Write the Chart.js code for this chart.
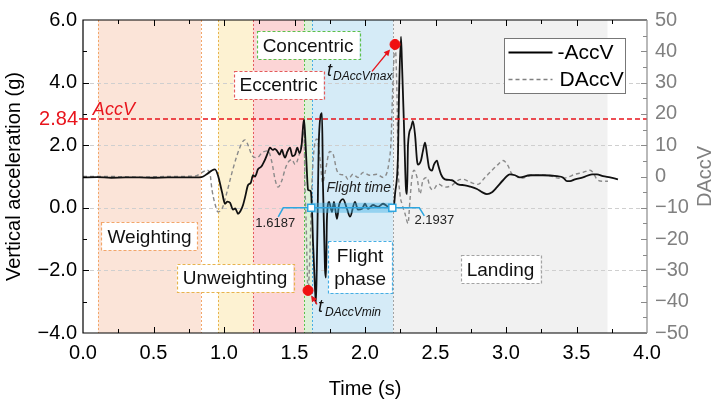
<!DOCTYPE html>
<html>
<head>
<meta charset="utf-8">
<script src="https://cdn.jsdelivr.net/npm/chart.js@4.4.1/dist/chart.umd.min.js"></script>
<style>
  html, body { margin: 0; padding: 0; background: #fff; }
</style>
</head>
<body>
<canvas id="jumpChart" width="720" height="405"></canvas>
<script>
// -AccV (left axis, g)
const timeAcc = [0.00, 0.10, 0.20, 0.30, 0.40, 0.50, 0.60, 0.70, 0.80, 0.84, 0.88, 0.91, 0.936, 0.957, 0.986,
  1.007, 1.025, 1.043, 1.064, 1.080, 1.099, 1.115, 1.135, 1.150, 1.170, 1.190, 1.206, 1.220, 1.241, 1.265,
  1.291, 1.310, 1.326, 1.345, 1.360, 1.376, 1.395, 1.411, 1.422, 1.433, 1.450, 1.468, 1.485, 1.504, 1.520,
  1.535, 1.550, 1.567, 1.578, 1.589, 1.596, 1.610, 1.617, 1.624, 1.631, 1.645, 1.652, 1.660, 1.674, 1.695,
  1.702, 1.716, 1.723, 1.730, 1.745, 1.766, 1.780, 1.801, 1.816, 1.844, 1.872, 1.894, 1.929, 1.950, 1.979,
  2.000, 2.021, 2.057, 2.092, 2.128, 2.163, 2.191, 2.205, 2.213, 2.234, 2.241, 2.255, 2.262, 2.277, 2.291,
  2.298, 2.305, 2.326, 2.340, 2.355, 2.369, 2.376, 2.397, 2.411, 2.426, 2.440, 2.454, 2.475, 2.489, 2.511,
  2.518, 2.539, 2.567, 2.617, 2.660, 2.709, 2.745, 2.794, 2.830, 2.865, 2.901, 2.936, 2.979, 3.028, 3.064,
  3.099, 3.170, 3.262, 3.362, 3.404, 3.433, 3.454, 3.489, 3.546, 3.610, 3.645, 3.688, 3.738, 3.794];
const accV = [0.97, 0.98, 0.96, 0.97, 0.97, 0.96, 0.97, 0.97, 0.97, 0.98, 1.08, 1.18, 1.23, 1.04, 0.50,
  0.13, 0.20, 0.16, -0.06, -0.02, -0.19, -0.12, 0.09, 0.35, 0.72, 0.80, 1.04, 1.00, 1.23, 1.32,
  1.54, 1.75, 1.92, 1.85, 1.88, 1.82, 1.70, 1.86, 1.70, 1.60, 1.80, 1.92, 1.65, 1.70, 1.92,
  1.75, 1.98, 2.84, 2.10, 1.04, 0.57, 0.55, 0.50, -0.03, -1.07, -2.55, -3.05, -1.38, 2.30, 3.02,
  0.72, -1.92, -2.23, -0.35, 0.19, -0.13, 0.19, -0.35, 0.09, 0.28, -0.03, -0.28, 0.19, -0.06, -0.03,
  0.13, -0.03, 0.09, 0.03, 0.13, 0.03, -0.06, 0.05, 0.44, 1.70, 3.58, 5.47, 4.65, 2.55, 0.57,
  0.44, 2.01, 2.55, 2.77, 2.33, 1.51, 1.38, 1.51, 1.82, 2.08, 1.70, 1.29, 1.19, 1.38, 1.51,
  1.38, 1.07, 0.91, 0.88, 0.75, 0.72, 0.68, 0.60, 0.50, 0.44, 0.50, 0.66, 0.88, 1.07, 1.04,
  0.97, 1.04, 1.04, 1.01, 0.97, 0.85, 0.85, 0.91, 0.97, 1.07, 1.07, 1.01, 0.97, 0.91];

// DAccV (right axis)
const timeDAcc = [0.00, 0.20, 0.40, 0.60, 0.80, 0.851, 0.880, 0.900, 0.915, 0.936, 0.957, 0.986, 1.021, 1.057,
  1.092, 1.128, 1.149, 1.170, 1.199, 1.234, 1.270, 1.312, 1.340, 1.362, 1.383, 1.411, 1.433, 1.454, 1.482,
  1.504, 1.530, 1.555, 1.566, 1.574, 1.582, 1.596, 1.610, 1.624, 1.645, 1.660, 1.680, 1.700, 1.720, 1.750,
  1.770, 1.800, 1.823, 1.858, 1.879, 1.915, 1.950, 1.986, 2.035, 2.085, 2.128, 2.156, 2.170, 2.184, 2.198,
  2.213, 2.227, 2.234, 2.248, 2.262, 2.284, 2.305, 2.319, 2.333, 2.348, 2.369, 2.390, 2.411, 2.440, 2.461,
  2.482, 2.518, 2.567, 2.617, 2.660, 2.695, 2.745, 2.801, 2.851, 2.901, 2.943, 2.979, 3.014, 3.043, 3.064,
  3.099, 3.191, 3.291, 3.383, 3.433, 3.489, 3.546, 3.596, 3.617, 3.645, 3.681, 3.723];
const dAccV = [0.0, 0.0, -0.2, 0.0, 0.2, 1.5, 2.0, 1.0, -4.3, -8.7, -11.3, -10.3, -5.0, 1.3,
  6.7, 10.8, 11.7, 10.1, 6.7, 6.0, 7.6, 8.2, 4.5, -0.9, -3.4, -1.2, 2.3, 4.5, 5.4,
  3.8, 6.5, 12.0, 17.0, -2.0, -14.0, -36.4, -23.8, -1.9, 10.8, 12.0, 6.0, -2.0, 2.0, 8.0,
  7.6, 2.0, 0.7, 0.4, -0.9, 0.7, -0.3, 1.3, 0.4, 0.7, -0.3, 1.3, 4.5, 10.8, 30.0,
  42.2, 25.8, 5.1, -5.6, -8.7, -11.9, -15.0, -7.5, -0.3, 2.0, -0.3, -5.6, -1.2, -0.3, -3.4,
  -4.3, -2.4, -3.4, -2.8, -1.2, -0.9, -1.8, -2.5, -0.3, 2.0, 3.8, 5.1, 3.5, 0.7, 0.4,
  -0.6, 0.4, 0.4, -0.6, -0.3, 0.7, 1.3, 2.0, 1.3, -0.9, -1.5, -1.5];

// tDAccVmin / tDAccVmax markers (right axis)
const markerTimes = [1.596, 2.213];
const markerDAcc = [-36.4, 42.2];

const threshold = 2.84;
const flightStart = 1.6187;
const flightEnd = 2.1937;

const phaseNames = ['Weighting', 'Unweighting', 'Eccentric', 'Concentric', 'Flight\nphase', 'Landing'];
const phaseStart = [0.106, 0.957, 1.205, 1.567, 1.624, 2.199];
const phaseEnd = [0.837, 1.205, 1.567, 1.624, 2.199, 3.72];

// looks of each phase: fill, edge colour, label centre in data coords
const phaseStyle = [
  { fill: '#fbe4d8', edge: '#f2a66a', lx: 0.472, ly: -0.91 },
  { fill: '#fdf2d2', edge: '#e7b34d', lx: 1.078, ly: -2.25 },
  { fill: '#fcd5d6', edge: '#e45b5b', lx: 1.387, ly: 3.92 },
  { fill: '#def0d8', edge: '#5cc04a', lx: 1.596, ly: 5.19 },
  { fill: '#d5ebf7', edge: '#45aee4', lx: 1.965, ly: -1.89 },
  { fill: '#f1f1f1', edge: '#a3a3a3', lx: 2.961, ly: -1.97 }
];

const FONT = '"Liberation Sans", Arial, sans-serif';

function minusFmt(v, digits) {
  const s = digits ? Math.abs(v).toFixed(digits) : String(Math.abs(v));
  return v < 0 ? '\u2212' + s : s;
}

function arrow(ctx, x1, y1, x2, y2) {
  const ang = Math.atan2(y2 - y1, x2 - x1);
  ctx.beginPath();
  ctx.moveTo(x1, y1);
  ctx.lineTo(x2 - 4 * Math.cos(ang), y2 - 4 * Math.sin(ang));
  ctx.stroke();
  ctx.beginPath();
  ctx.moveTo(x2, y2);
  ctx.lineTo(x2 - 7 * Math.cos(ang - 0.45), y2 - 7 * Math.sin(ang - 0.45));
  ctx.lineTo(x2 - 7 * Math.cos(ang + 0.45), y2 - 7 * Math.sin(ang + 0.45));
  ctx.closePath();
  ctx.fill();
}

const decor = {
  id: 'decor',
  beforeDatasetsDraw(chart) {
    const { ctx, chartArea: a, scales: { x, y } } = chart;
    ctx.save();
    // phase bands
    phaseStart.forEach((s, i) => {
      const x1 = x.getPixelForValue(s), x2 = x.getPixelForValue(phaseEnd[i]);
      ctx.fillStyle = phaseStyle[i].fill;
      ctx.fillRect(x1, a.top, x2 - x1, a.bottom - a.top);
    });
    // horizontal dashed grid
    ctx.strokeStyle = '#cfcfcf';
    ctx.lineWidth = 1;
    ctx.setLineDash([4, 3]);
    [4, 2, 0, -2].forEach(v => {
      const py = Math.round(y.getPixelForValue(v)) + 0.5;
      ctx.beginPath(); ctx.moveTo(a.left, py); ctx.lineTo(a.right, py); ctx.stroke();
    });
    // dotted phase edges
    ctx.setLineDash([2, 2]);
    const edges = [[0.106, 0], [0.837, 0], [0.957, 1], [1.205, 2], [1.565, 2], [1.569, 3], [1.624, 4], [2.199, 5]];
    edges.forEach(([t, i]) => {
      const px = Math.round(x.getPixelForValue(t)) + 0.5;
      ctx.strokeStyle = phaseStyle[i].edge;
      ctx.beginPath(); ctx.moveTo(px, a.top); ctx.lineTo(px, a.bottom); ctx.stroke();
    });
    ctx.restore();
  },
  afterDatasetsDraw(chart) {
    const { ctx, chartArea: a, scales: { x, y, y1 } } = chart;
    ctx.save();
    // threshold line
    const ty = y.getPixelForValue(threshold);
    ctx.strokeStyle = '#e8141c';
    ctx.lineWidth = 1.5;
    ctx.setLineDash([5, 3]);
    ctx.beginPath(); ctx.moveTo(a.left, ty); ctx.lineTo(a.right, ty); ctx.stroke();
    ctx.setLineDash([]);
    ctx.fillStyle = '#e8141c';
    ctx.font = 'italic 18px ' + FONT;
    ctx.textAlign = 'left';
    ctx.textBaseline = 'alphabetic';
    ctx.fillText('AccV', x.getPixelForValue(0.07), ty - 4);

    // flight time bracket
    const fx1 = x.getPixelForValue(flightStart), fx2 = x.getPixelForValue(flightEnd);
    const fy = y.getPixelForValue(0);
    ctx.fillStyle = 'rgba(70,180,230,0.45)';
    ctx.fillRect(fx1, fy - 5, fx2 - fx1, 10);
    ctx.strokeStyle = '#2ea6e0';
    ctx.lineWidth = 1.5;
    ctx.beginPath();
    ctx.moveTo(fx1 - 33, fy + 9); ctx.lineTo(fx1 - 28, fy); ctx.lineTo(fx2 + 27, fy); ctx.lineTo(fx2 + 32, fy + 8);
    ctx.stroke();
    [fx1, fx2].forEach(px => {
      ctx.fillStyle = '#fff';
      ctx.fillRect(px - 3.5, fy - 3.5, 7, 7);
      ctx.strokeRect(px - 3.5, fy - 3.5, 7, 7);
    });
    ctx.fillStyle = '#222';
    ctx.font = '13px ' + FONT;
    ctx.textAlign = 'center';
    ctx.textBaseline = 'middle';
    ctx.fillText(flightStart.toFixed(4), fx1 - 36, fy + 16);
    ctx.fillText(flightEnd.toFixed(4), fx2 + 42, fy + 13);
    ctx.font = 'italic 14px ' + FONT;
    ctx.fillText('Flight time', (fx1 + fx2) / 2 + 7, fy - 20);

    // phase label boxes
    ctx.font = '19px ' + FONT;
    phaseNames.forEach((name, i) => {
      const st = phaseStyle[i];
      const lines = name.split('\n');
      const w = Math.max(...lines.map(l => ctx.measureText(l).width)) + 12;
      const h = lines.length === 1 ? 28 : 52;
      const cx = x.getPixelForValue(st.lx), cy = y.getPixelForValue(st.ly);
      ctx.fillStyle = '#fff';
      ctx.fillRect(cx - w / 2, cy - h / 2, w, h);
      ctx.strokeStyle = st.edge;
      ctx.lineWidth = 1.2;
      ctx.setLineDash([3, 2]);
      ctx.strokeRect(Math.round(cx - w / 2) + 0.5, Math.round(cy - h / 2) + 0.5, Math.round(w), h);
      ctx.setLineDash([]);
      ctx.fillStyle = '#111';
      lines.forEach((l, k) => {
        ctx.fillText(l, cx, cy + (k - (lines.length - 1) / 2) * 23 + 1);
      });
    });

    // marker labels and arrows
    const pMin = { x: x.getPixelForValue(markerTimes[0]), y: y1.getPixelForValue(markerDAcc[0]) };
    const pMax = { x: x.getPixelForValue(markerTimes[1]), y: y1.getPixelForValue(markerDAcc[1]) };
    ctx.strokeStyle = '#e8141c';
    ctx.fillStyle = '#e8141c';
    ctx.lineWidth = 1.3;
    arrow(ctx, pMax.x - 23, pMax.y + 27, pMax.x - 5, pMax.y + 5);
    arrow(ctx, pMin.x + 9, pMin.y + 14, pMin.x + 3, pMin.y + 5);
    ctx.fillStyle = '#111';
    ctx.textAlign = 'left';
    ctx.textBaseline = 'alphabetic';
    ctx.font = 'italic 18px ' + FONT;
    ctx.fillText('t', pMax.x - 68, pMax.y + 32);
    ctx.fillText('t', pMin.x + 10, pMin.y + 22);
    ctx.font = 'italic 12px ' + FONT;
    ctx.fillText('DAccVmax', pMax.x - 62, pMax.y + 36);
    ctx.fillText('DAccVmin', pMin.x + 17, pMin.y + 26);
    ctx.restore();
  },
  afterDraw(chart) {
    const { ctx, chartArea: a, scales: { x, y, y1 } } = chart;
    ctx.save();
    ctx.lineWidth = 1.2;
    // frame
    ctx.strokeStyle = '#000';
    ctx.beginPath();
    ctx.moveTo(a.right, a.top); ctx.lineTo(a.left, a.top); ctx.lineTo(a.left, a.bottom); ctx.lineTo(a.right, a.bottom);
    ctx.stroke();
    ctx.strokeStyle = '#8a8a8a';
    ctx.beginPath(); ctx.moveTo(a.right, a.top); ctx.lineTo(a.right, a.bottom); ctx.stroke();
    // x ticks, inward, bottom and top
    ctx.strokeStyle = '#000';
    ctx.lineWidth = 1;
    for (let t = 0.25; t < 4; t += 0.25) {
      const px = Math.round(x.getPixelForValue(t)) + 0.5;
      const len = Math.abs(t * 2 - Math.round(t * 2)) < 1e-6 ? 6 : 4;
      ctx.beginPath();
      ctx.moveTo(px, a.bottom); ctx.lineTo(px, a.bottom - len);
      ctx.moveTo(px, a.top); ctx.lineTo(px, a.top + len);
      ctx.stroke();
    }
    // left ticks
    for (let v = -3; v < 6; v += 1) {
      const py = Math.round(y.getPixelForValue(v)) + 0.5;
      const len = v % 2 === 0 ? 6 : 4;
      ctx.beginPath(); ctx.moveTo(a.left, py); ctx.lineTo(a.left + len, py); ctx.stroke();
    }
    // right ticks
    ctx.strokeStyle = '#8a8a8a';
    for (let v = -45; v < 50; v += 5) {
      const py = Math.round(y1.getPixelForValue(v)) + 0.5;
      const len = v % 10 === 0 ? 6 : 4;
      ctx.beginPath(); ctx.moveTo(a.right, py); ctx.lineTo(a.right - len, py); ctx.stroke();
    }
    // right axis title, reading upward like the left one
    ctx.save();
    ctx.translate(705, (a.top + a.bottom) / 2);
    ctx.rotate(-Math.PI / 2);
    ctx.fillStyle = '#808080';
    ctx.font = '20px ' + FONT;
    ctx.textAlign = 'center';
    ctx.textBaseline = 'middle';
    ctx.fillText('DAccV', 0, 0);
    ctx.restore();
    // threshold tick label
    const ty = y.getPixelForValue(threshold);
    ctx.strokeStyle = '#e8141c';
    ctx.lineWidth = 1.5;
    ctx.beginPath(); ctx.moveTo(a.left - 4, ty); ctx.lineTo(a.left + 5, ty); ctx.stroke();
    ctx.fillStyle = '#e8141c';
    ctx.font = '20px ' + FONT;
    ctx.textAlign = 'right';
    ctx.textBaseline = 'middle';
    ctx.fillText(threshold.toFixed(2), a.left - 5, ty + 1);

    // legend
    const lx = 504.5, ly = 38.5;
    ctx.fillStyle = '#fff';
    ctx.fillRect(lx, ly, 121, 55);
    ctx.strokeStyle = '#777';
    ctx.lineWidth = 1;
    ctx.strokeRect(lx, ly, 121, 55);
    ctx.strokeStyle = '#000';
    ctx.lineWidth = 2;
    ctx.beginPath(); ctx.moveTo(lx + 4, ly + 14); ctx.lineTo(lx + 48, ly + 14); ctx.stroke();
    ctx.strokeStyle = '#808080';
    ctx.lineWidth = 1.5;
    ctx.setLineDash([4, 3]);
    ctx.beginPath(); ctx.moveTo(lx + 4, ly + 41); ctx.lineTo(lx + 48, ly + 41); ctx.stroke();
    ctx.setLineDash([]);
    ctx.fillStyle = '#000';
    ctx.font = '21px ' + FONT;
    ctx.textAlign = 'left';
    ctx.fillText('-AccV', lx + 53, ly + 15);
    ctx.fillText('DAccV', lx + 55, ly + 42);
    ctx.restore();
  }
};

const ctx = document.getElementById('jumpChart').getContext('2d');
const jumpChart = new Chart(ctx, {
  type: 'line',
  data: {
    datasets: [
      {
        label: 'markers',
        type: 'scatter',
        data: markerTimes.map((t, i) => ({ x: t, y: markerDAcc[i] })),
        yAxisID: 'y1',
        pointRadius: 5,
        pointBackgroundColor: '#f01010',
        pointBorderColor: '#f01010',
        showLine: false
      },
      {
        label: '-AccV',
        data: timeAcc.map((t, i) => ({ x: t, y: accV[i] })),
        yAxisID: 'y',
        borderColor: '#111',
        borderWidth: 1.8,
        pointRadius: 0,
        tension: 0.3,
        cubicInterpolationMode: 'monotone'
      },
      {
        label: 'DAccV',
        data: timeDAcc.map((t, i) => ({ x: t, y: dAccV[i] })),
        yAxisID: 'y1',
        borderColor: '#8a8a8a',
        borderWidth: 1.4,
        borderDash: [4, 3],
        pointRadius: 0,
        tension: 0.3,
        cubicInterpolationMode: 'monotone'
      }
    ]
  },
  options: {
    responsive: false,
    animation: false,
    devicePixelRatio: 1,
    events: [],
    layout: { padding: { top: 15, left: 0, right: 0, bottom: 0 } },
    plugins: { legend: { display: false }, tooltip: { enabled: false } },
    scales: {
      x: {
        type: 'linear',
        min: 0,
        max: 4,
        afterFit: s => { s.height = 72; },
        grid: { display: false, drawTicks: false },
        border: { display: false },
        ticks: {
          stepSize: 0.5,
          padding: 8,
          color: '#000',
          font: { family: FONT, size: 20 },
          callback: v => minusFmt(v, 1)
        },
        title: { display: true, text: 'Time (s)', color: '#000', font: { family: FONT, size: 20 }, padding: { top: 0, bottom: 4 } }
      },
      y: {
        position: 'left',
        min: -4,
        max: 6,
        afterFit: s => { s.width = 83; },
        grid: { display: false, drawTicks: false },
        border: { display: false },
        ticks: {
          stepSize: 2,
          padding: 6,
          color: '#000',
          font: { family: FONT, size: 20 },
          callback: v => minusFmt(v, 1)
        },
        title: { display: true, text: 'Vertical acceleration (g)', color: '#000', font: { family: FONT, size: 20 }, padding: { top: 2, bottom: 0 } }
      },
      y1: {
        position: 'right',
        min: -50,
        max: 50,
        afterFit: s => { s.width = 73; },
        grid: { display: false, drawTicks: false },
        border: { display: false },
        ticks: {
          stepSize: 10,
          padding: 8,
          color: '#808080',
          font: { family: FONT, size: 20 },
          callback: v => minusFmt(v, 0)
        },
        title: { display: false }
      }
    }
  },
  plugins: [decor]
});
</script>
</body>
</html>
